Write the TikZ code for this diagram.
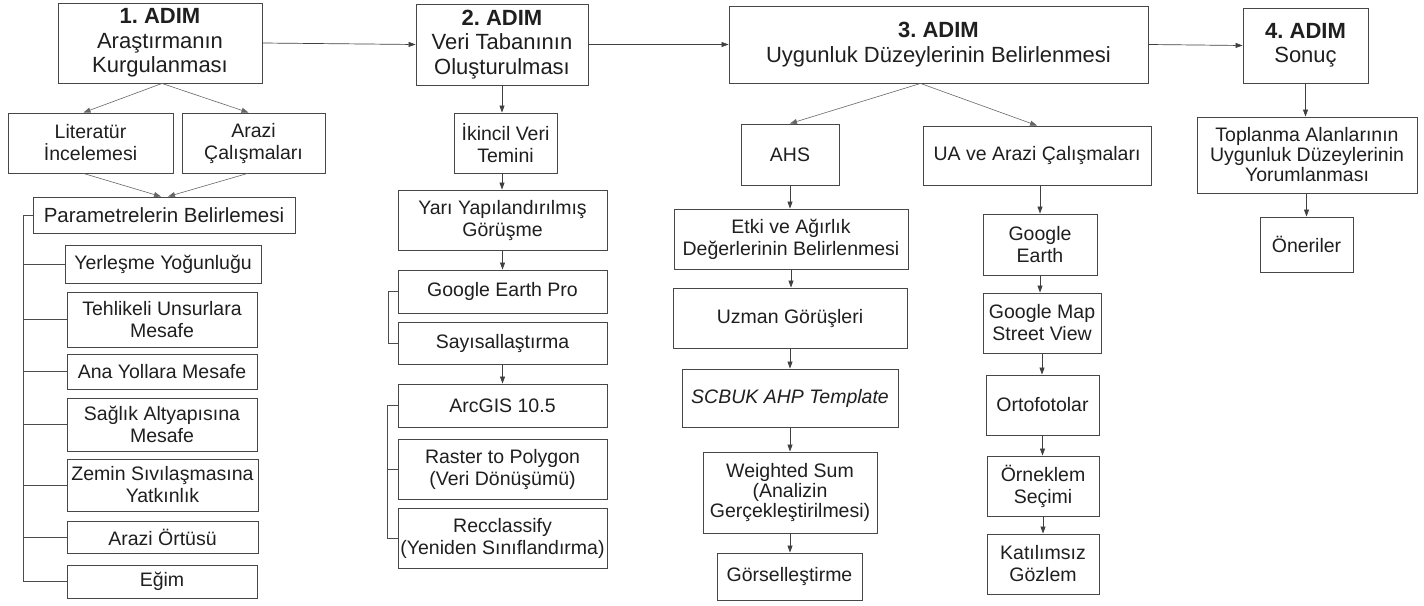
\documentclass[tikz,border=0pt]{standalone}
\usepackage{fontspec}
\setmainfont{Liberation Sans}
\usetikzlibrary{arrows.meta}
\frenchspacing
\newcommand\mybox[7][]{\node[box,#1,minimum width={(#5-#3)*1pt},minimum height={(#6-#4)*1pt}] (#2) at ({(#3+#5)/2},{(#4+#6)/2}) {#7};}
\begin{document}
\begin{tikzpicture}[x=1pt,y=-1pt,
  box/.style={draw=black!72,line width=0.9pt,fill=white,inner sep=0pt,align=center,
    font=\fontsize{19.5}{22}\selectfont,text=black!88},
  titlebox/.style={font=\fontsize{22}{24.5}\selectfont},
  bigbox/.style={font=\fontsize{20.5}{22}\selectfont},
  tight/.style={font=\fontsize{19.5}{20}\selectfont},
  arr/.style={draw=black!75,line width=0.7pt,-{Triangle[length=7pt,width=5pt]}},
  thinarr/.style={draw=black!60,line width=0.6pt,-{Triangle[length=7pt,width=5pt]}},
  brk/.style={draw=black!70,line width=0.9pt}]
\useasboundingbox (0,0) rectangle (1424,605);
% step boxes
\mybox[titlebox]{s1}{58}{3}{262}{83}{\textbf{1. ADIM}\\Araştırmanın\\Kurgulanması}
\mybox[titlebox]{s2}{416}{4}{588}{85}{\textbf{2. ADIM}\\Veri Tabanının\\Oluşturulması}
\mybox[titlebox]{s3}{729}{6}{1148}{83}{\textbf{3. ADIM}\\Uygunluk Düzeylerinin Belirlenmesi}
\mybox[titlebox]{s4}{1243}{8}{1368}{83}{\textbf{4. ADIM}\\Sonuç}
% column 1
\mybox{lit}{8}{113}{173}{173}{Literatür\\İncelemesi}
\mybox{araz}{182}{113}{325}{173}{Arazi\\Çalışmaları}
\mybox[bigbox]{param}{33}{197}{295}{233}{Parametrelerin Belirlemesi}
\mybox{p1}{65}{245}{261}{283}{Yerleşme Yoğunluğu}
\mybox{p2}{67}{292}{257}{347}{Tehlikeli Unsurlara\\Mesafe}
\mybox{p3}{67}{354}{257}{389}{Ana Yollara Mesafe}
\mybox{p4}{67}{398}{257}{451}{Sağlık Altyapısına\\Mesafe}
\mybox{p5}{67}{459}{258}{511}{Zemin Sıvılaşmasına\\Yatkınlık}
\mybox{p6}{67}{521}{258}{553}{Arazi Örtüsü}
\mybox{p7}{67}{565}{257}{598}{Eğim}
% column 2
\mybox{ik}{454}{113}{557}{173}{İkincil Veri\\Temini}
\mybox{yari}{398}{190}{607}{250}{Yarı Yapılandırılmış\\Görüşme}
\mybox{gep}{398}{270}{607}{313}{Google Earth Pro}
\mybox{say}{398}{322}{607}{364}{Sayısallaştırma}
\mybox{arc}{398}{384}{607}{427}{ArcGIS 10.5}
\mybox{ras}{398}{439}{607}{499}{Raster to Polygon\\(Veri Dönüşümü)}
\mybox{rec}{398}{508}{607}{568}{Recclassify\\(Yeniden Sınıflandırma)}
% column 3
\mybox{ahs}{741}{124}{839}{185}{AHS}
\mybox{ua}{923}{126}{1151}{185}{UA ve Arazi Çalışmaları}
\mybox{etki}{674}{209}{908}{269}{Etki ve Ağırlık\\Değerlerinin Belirlenmesi}
\mybox{uzm}{673}{288}{907}{348}{Uzman Görüşleri}
\mybox{scb}{682}{369}{898}{427}{\itshape SCBUK AHP Template}
\mybox[tight]{ws}{703}{452}{877}{533}{Weighted Sum\\(Analizin\\Gerçekleştirilmesi)}
\mybox{gor}{717}{553}{862}{600}{Görselleştirme}
\mybox{ge}{983}{214}{1097}{275}{Google\\Earth}
\mybox{gm}{983}{293}{1101}{353}{Google Map\\Street View}
\mybox{orto}{986}{375}{1099}{435}{Ortofotolar}
\mybox{orn}{987}{456}{1099}{516}{Örneklem\\Seçimi}
\mybox{kat}{987}{534}{1099}{594}{Katılımsız\\Gözlem}
% column 4
\mybox[tight]{top}{1197}{117}{1417}{193}{Toplanma Alanlarının\\Uygunluk Düzeylerinin\\Yorumlanması}
\mybox{one}{1260}{217}{1353}{272}{Öneriler}
% main flow
\draw[arr] (s1.east) -- (s2.west);
\draw[arr] (s2.east) -- (s3.west);
\draw[arr] (s3.east) -- (s4.west);
% step 1
\draw[thinarr] ([xshift=2pt]s1.south) -- ([xshift=-7pt]lit.north);
\draw[thinarr] ([xshift=2pt]s1.south) -- ([xshift=-5pt]araz.north);
\draw[thinarr] ([xshift=-7pt]lit.south) -- ([xshift=-3pt]param.north);
\draw[thinarr] ([xshift=-6pt]araz.south) -- ([xshift=4pt]param.north);
\coordinate (b1) at (23,215);
\draw[brk] (param.west) -- (param.west -| b1) |- (p7.west);
\foreach \n in {p1,p2,p3,p4,p5,p6}{\draw[brk] (\n.west) -- (\n.west -| b1);}
% step 2
\draw[arr] (s2.south) -- (s2.south |- ik.north);
\draw[arr] (s2.south |- ik.south) -- (s2.south |- yari.north);
\draw[arr] (yari.south) -- (yari.south |- gep.north);
\coordinate (b2) at (388,0);
\draw[brk] (gep.west) -- (gep.west -| b2) |- (say.west);
\draw[arr] (say.south) -- (say.south |- arc.north);
\coordinate (b3) at (387,0);
\draw[brk] (arc.west) -- (arc.west -| b3) |- (rec.west);
\draw[brk] (ras.west) -- (ras.west -| b3);
% step 3
\draw[thinarr] ([xshift=-18pt]s3.south) -- (ahs.north);
\draw[thinarr] ([xshift=-18pt]s3.south) -- (ua.north);
\draw[arr] (ahs.south) -- (ahs.south |- etki.north);
\draw[arr] (etki.south) -- (etki.south |- uzm.north);
\draw[arr] (uzm.south) -- (uzm.south |- scb.north);
\draw[arr] (scb.south) -- (scb.south |- ws.north);
\draw[arr] (ws.south) -- (ws.south |- gor.north);
\draw[arr] (ge.north |- ua.south) -- (ge.north);
\draw[arr] (ge.south) -- (ge.south |- gm.north);
\draw[arr] (gm.south) -- (gm.south |- orto.north);
\draw[arr] (orto.south) -- (orto.south |- orn.north);
\draw[arr] (orn.south) -- (orn.south |- kat.north);
% step 4
\draw[arr] (s4.south) -- (s4.south |- top.north);
\draw[arr] (one.north |- top.south) -- (one.north);
\end{tikzpicture}
\end{document}
